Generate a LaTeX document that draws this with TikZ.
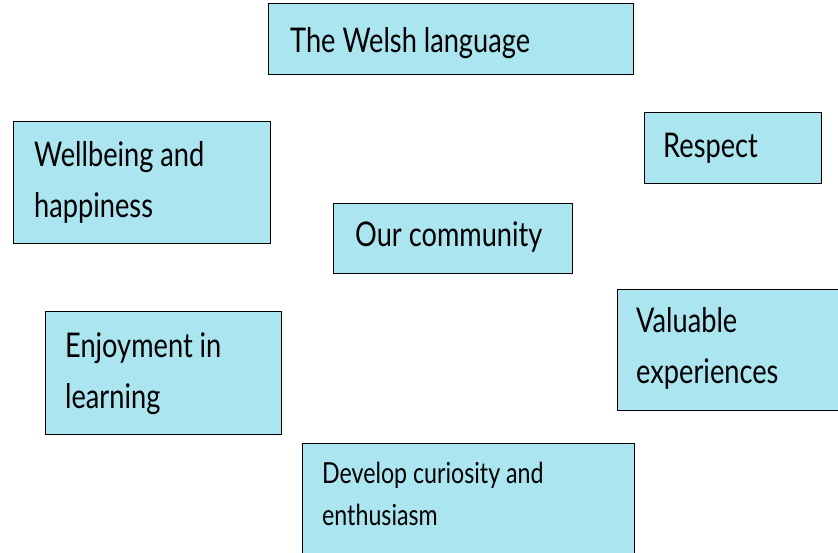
\documentclass[tikz,border=0pt]{standalone}
\usepackage{fontspec}
\setmainfont{Lato}[FakeStretch=0.8]
\definecolor{boxblue}{HTML}{ABE5F0}
\begin{document}
\begin{tikzpicture}[x=1pt,y=-1pt,
  box/.style={draw=black,line width=1.4pt,fill=boxblue,rectangle,inner sep=0pt,anchor=north west},
  lbl/.style={anchor=base west,inner sep=0pt,font=\fontsize{34}{40}\selectfont},
  lblsmall/.style={anchor=base west,inner sep=0pt,font=\fontsize{29}{34}\selectfont}]
\useasboundingbox (0,0) rectangle (838,553);
% boxes
\node[box,minimum width=365pt,minimum height=71pt] (welsh) at (268,3) {};
\node[box,minimum width=257pt,minimum height=122pt] (well) at (13,121) {};
\node[box,minimum width=177pt,minimum height=71pt] (resp) at (644,112) {};
\node[box,minimum width=239pt,minimum height=70pt] (comm) at (333,203) {};
\node[box,minimum width=236pt,minimum height=123pt] (enjoy) at (45,311) {};
\node[box,minimum width=225pt,minimum height=121pt] (valu) at (617,289) {};
\node[box,minimum width=332pt,minimum height=115pt] (devel) at (302,443) {};
% labels
\node[lbl] (t1) at (290,53) {The Welsh language};
\node[lbl] (t2a) at (34,167) {Wellbeing and};
\node[lbl] (t2b) at (34,218) {happiness};
\node[lbl] (t3) at (663,158) {Respect};
\node[lbl] (t4) at (355,247) {Our community};
\node[lbl] (t5a) at (65,357) {Enjoyment in};
\node[lbl] (t5b) at (65,408) {learning};
\node[lbl] (t6a) at (636,333) {Valuable};
\node[lbl] (t6b) at (636,383) {experiences};
\node[lblsmall] (t7a) at (322,483) {Develop curiosity and};
\node[lblsmall] (t7b) at (322,525) {enthusiasm};
\end{tikzpicture}
\end{document}
